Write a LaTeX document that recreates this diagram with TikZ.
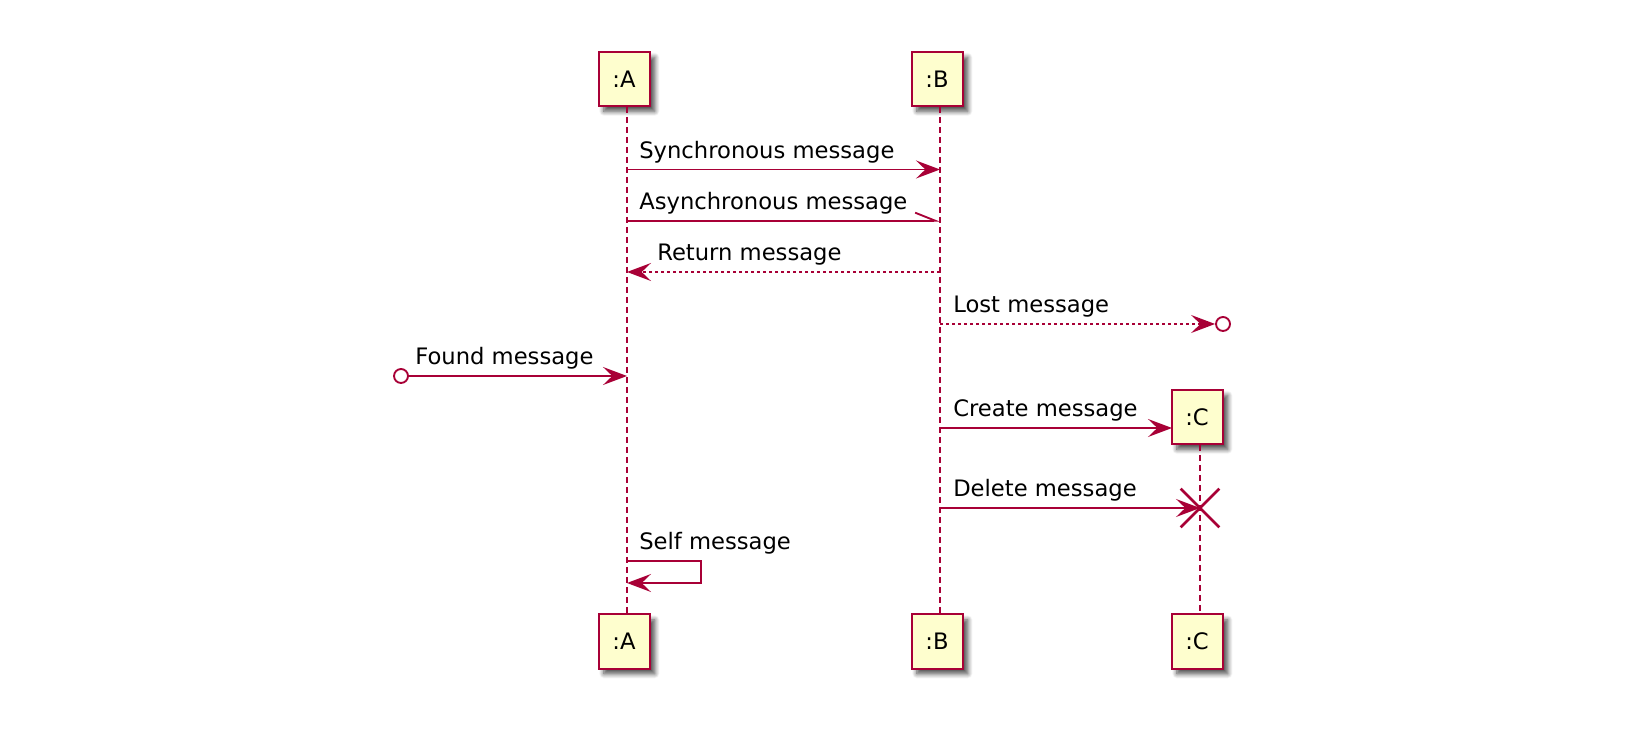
\documentclass[tikz,border=0pt]{standalone}
\usepackage{fontspec}
\setmainfont{DejaVu Sans}
\usetikzlibrary{arrows.meta,shadows.blur,shapes.misc}
\definecolor{pline}{HTML}{A80036}
\definecolor{pfill}{HTML}{FEFECE}
\begin{document}
\begin{tikzpicture}[x=0.75pt,y=-0.75pt,
  font=\fontsize{17}{20}\selectfont,
  part/.style={draw=pline, fill=pfill, line width=1.5pt, minimum width=38.25pt,
    minimum height=40.5pt, inner sep=0pt,
    blur shadow={shadow xshift=4pt, shadow yshift=-4pt, shadow blur steps=8, shadow blur radius=3.5pt, shadow opacity=70}},
  life/.style={draw=pline, line width=1.1pt, dash pattern=on 4.5pt off 3pt},
  msg/.style={draw=pline, line width=1.4pt},
  tip/.style={-{Stealth[length=18pt, width=13.5pt, inset=7pt]}},
  barb/.style={-{Straight Barb[harpoon, length=15pt, width=12pt]}},
  ret/.style={dash pattern=on 2.25pt off 2.25pt},
  lbl/.style={anchor=base west, inner sep=0pt, text=black},
  endc/.style={circle, draw=pline, fill=white, line width=1.4pt, minimum size=10.5pt, inner sep=0pt},
]
\useasboundingbox (0,0) rectangle (1632,730);
% participant boxes
\node[part] (Atop) at (624,79) {:A};
\node[part] (Btop) at (937,79) {:B};
\node[part] (Ctop) at (1197,417) {:C};
\node[part] (Abot) at (624,641.5) {:A};
\node[part] (Bbot) at (937,641.5) {:B};
\node[part] (Cbot) at (1197,641.5) {:C};
% lifelines
\draw[life] ([xshift=2.25pt]Atop.south) -- ([xshift=2.25pt]Abot.north);
\draw[life] ([xshift=2.25pt]Btop.south) -- ([xshift=2.25pt]Bbot.north);
\draw[life] ([xshift=2.25pt]Ctop.south) -- ([xshift=2.25pt]Cbot.north);
% message anchor points
\coordinate (a1) at (627,169.5);  \coordinate (b1) at (940,169.5);
\coordinate (a2) at (627,220.7);  \coordinate (b2) at (940,220.7);
\coordinate (a3) at (627,272);    \coordinate (b3) at (940,272);
\coordinate (b4) at (940,324);
\coordinate (a5) at (627,376);
\coordinate (b6) at (940,428);    \coordinate (c6) at (1172,428);
\coordinate (b7) at (940,508);
\coordinate (s1) at (627,561);    \coordinate (s2) at (701,561);
\coordinate (s3) at (701,583);    \coordinate (s4) at (627,583);
\node[endc] (lost) at (1223,324) {};
\node[endc] (found) at (401,376) {};
\node[cross out, draw=pline, line width=2pt, minimum size=27pt, inner sep=0pt] (del) at (1200,508) {};
% messages
\draw[msg,tip] (a1) -- (b1);
\node[lbl] at (639,159) {Synchronous message};
\draw[msg,barb] (a2) -- (b2);
\node[lbl] at (639,210) {Asynchronous message};
\draw[msg,tip,ret] (b3) -- (a3);
\node[lbl] at (657,261) {Return message};
\draw[msg,tip,ret] (b4) -- (lost);
\node[lbl] at (953,313) {Lost message};
\draw[msg,tip] (found) -- (a5);
\node[lbl] at (415,365) {Found message};
\draw[msg,tip] (b6) -- (c6);
\node[lbl] at (953,417) {Create message};
\draw[msg,tip] (b7) -- (del.center);
\node[lbl] at (953,497) {Delete message};
\draw[msg,tip] (s1) -- (s2) -- (s3) -- (s4);
\node[lbl] at (639,550) {Self message};
\end{tikzpicture}
\end{document}
